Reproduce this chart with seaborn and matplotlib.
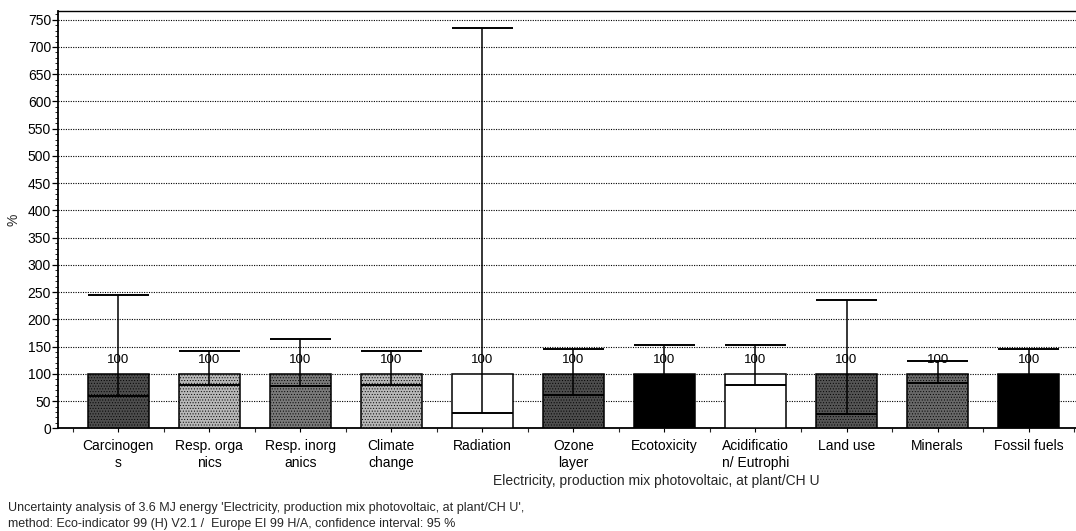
import matplotlib
matplotlib.use("Agg")
import matplotlib.pyplot as plt
import seaborn as sns
import pandas as pd
from matplotlib.ticker import MultipleLocator

# Impact categories and uncertainty results (% of the characterised value)
categories = ["Carcinogen\ns", "Resp. orga\nnics", "Resp. inorg\nanics", "Climate\nchange",
              "Radiation", "Ozone\nlayer", "Ecotoxicity", "Acidificatio\nn/ Eutrophi",
              "Land use", "Minerals", "Fossil fuels"]
mean_values = [100, 100, 100, 100, 100, 100, 100, 100, 100, 100, 100]
lower_bounds = [60, 79, 77, 79, 29, 62, 70, 80, 26, 83, 70]
upper_bounds = [245, 141, 164, 141, 735, 145, 153, 152, 236, 123, 145]
bar_colors = ["#4d4d4d", "#b8b8b8", "#7a7a7a", "#b8b8b8", "#ffffff", "#4d4d4d",
              "#000000", "#ffffff", "#555555", "#686868", "#000000"]

sns.set_theme(style="white")
plt.rcParams["font.family"] = ["Liberation Sans", "DejaVu Sans"]
plt.rcParams["hatch.linewidth"] = 0.4

df = pd.DataFrame({"category": categories, "value": mean_values})

fig = plt.figure(figsize=(10.76, 5.31), dpi=100)
ax = fig.add_axes([58 / 1076, 1 - 428.3 / 531, 1 - 58 / 1076, (428.3 - 11) / 531])

bar_w = 0.67
sns.barplot(data=df, x="category", y="value", hue="category", palette=bar_colors,
            legend=False, width=bar_w, edgecolor="black", linewidth=1.1,
            errorbar=None, ax=ax, zorder=3)

# stippled texture on the grey bars
for patch, col in zip(ax.patches, bar_colors):
    if col not in ("#ffffff", "#000000"):
        patch.set_hatch("......")

xs = list(range(len(categories)))
half = bar_w / 2
# lower bound line inside each bar
ax.hlines(lower_bounds, [x - half for x in xs], [x + half for x in xs],
          colors="black", linewidth=1.4, zorder=4)
# whisker to the upper bound with a cap
ax.vlines(xs, lower_bounds, upper_bounds, colors="black", linewidth=1.1, zorder=4)
ax.hlines(upper_bounds, [x - half for x in xs], [x + half for x in xs],
          colors="black", linewidth=1.4, zorder=4)

# value labels above the bars
for x, v in zip(xs, mean_values):
    ax.annotate(f"{v}", (x, v), xytext=(0, 10), textcoords="offset points",
                ha="center", va="center", fontsize=9.5, color="black", zorder=5)

ax.set_xlim(-0.66, 10.52)
ax.set_ylim(0, 766)
ax.yaxis.set_major_locator(MultipleLocator(50))
ax.yaxis.set_minor_locator(MultipleLocator(10))
ax.xaxis.set_minor_locator(MultipleLocator(0.5))
ax.grid(axis="y", which="major", color="black", linestyle=(0, (1, 1.2)), linewidth=0.8)
ax.set_axisbelow(True)

for side in ("left", "bottom", "top"):
    ax.spines[side].set_visible(True)
    ax.spines[side].set_color("black")
ax.spines["left"].set_linewidth(1.3)
ax.spines["bottom"].set_linewidth(1.3)
ax.spines["top"].set_linewidth(1.0)
ax.spines["right"].set_visible(False)

ax.tick_params(axis="y", which="major", left=True, length=4, width=0.9, labelsize=10,
               pad=1, colors="black")
ax.tick_params(axis="y", which="minor", left=True, length=2, width=0.7)
ax.tick_params(axis="x", which="major", bottom=True, length=3, width=0.8, labelsize=10,
               pad=5, colors="black")
ax.tick_params(axis="x", which="minor", bottom=True, length=3, width=0.8)
ax.set_xlabel("")
ax.set_ylabel("")
for lbl in ax.get_xticklabels():
    lbl.set_linespacing(1.25)

fig.text(14 / 1076, 1 - 220 / 531, "%", rotation=90, ha="center", va="center", fontsize=10)
fig.text(656 / 1076, 1 - 481 / 531, "Electricity, production mix photovoltaic, at plant/CH U",
         ha="center", va="center", fontsize=10)
fig.text(8 / 1076, 1 - 508 / 531,
         "Uncertainty analysis of 3.6 MJ energy 'Electricity, production mix photovoltaic, at plant/CH U',",
         ha="left", va="center", fontsize=9)
fig.text(8 / 1076, 1 - 524 / 531,
         "method: Eco-indicator 99 (H) V2.1 /  Europe EI 99 H/A, confidence interval: 95 %",
         ha="left", va="center", fontsize=9)

fig.savefig("out.png", dpi=100)
